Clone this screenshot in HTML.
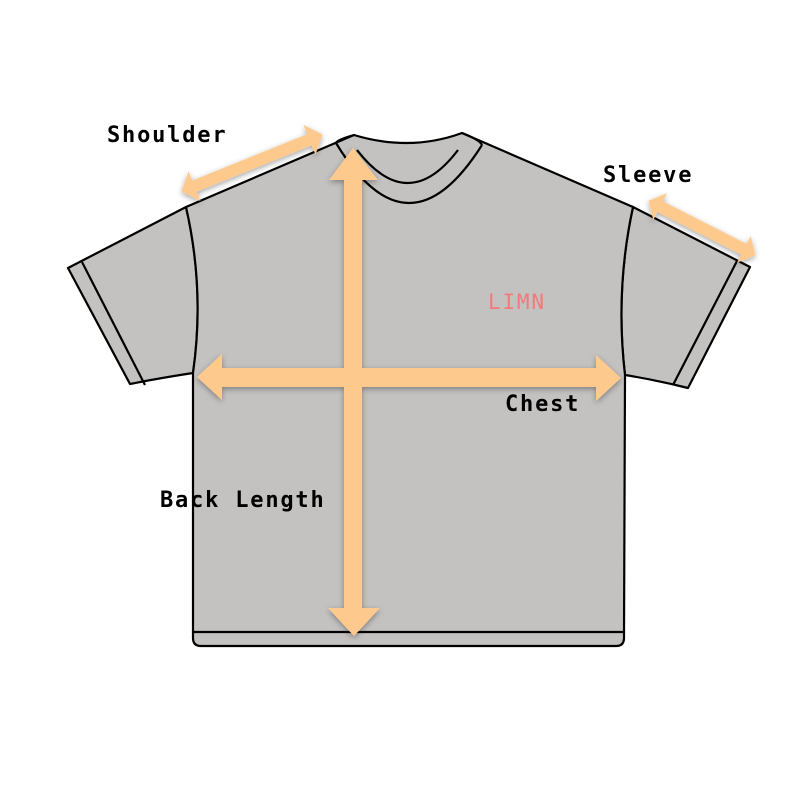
<!DOCTYPE html>
<html><head><meta charset="utf-8"><style>
html,body{margin:0;padding:0;background:#fff;}
svg{display:block;}
text{font-family:"DejaVu Sans Mono","Liberation Mono",monospace;letter-spacing:1.8px;}
</style></head><body>
<svg width="800" height="800" viewBox="0 0 800 800" xmlns="http://www.w3.org/2000/svg">
<defs>
<filter id="sh" x="-20%" y="-20%" width="140%" height="140%"><feDropShadow dx="0" dy="2" stdDeviation="3" flood-color="#000" flood-opacity="0.35"/></filter>
</defs>
<g stroke="#000" stroke-width="2.2" stroke-linejoin="round" fill="#c3c2c0">
<path d="M186,207 L68,268 L130,384 Q160,378 193,373 Q205,290 186,207 Z"/>
<path d="M633,207 L750,267 L688,388 Q656,380 625,375 Q615,290 633,207 Z"/>
<path d="M354,135 L186,207 Q205,290 193,373 L193,638 Q193,646 201,646 L616,646 Q624,646 624,638 L625,375 Q615,290 633,207 L462,133 Q410,152 354,135 Z"/>
<path d="M193,632 L624,632" fill="none"/>
<path d="M82,262 L145,385" fill="none"/>
<path d="M737,261 L673,385" fill="none"/>
<path d="M336,143 Q408,262 482,145" fill="none"/>
<path d="M357,150 Q408,216 458,150" fill="none"/>
<path d="M354,135 Q336,140 336,143" fill="none"/>
<path d="M462,133 Q480,140 482,145" fill="none"/>
</g>
<g fill="#fec98d" filter="url(#sh)">
<polygon points="353,148 378,180 362,180 362,608 380,608 354,636 328,608 344,608 344,180 329,180"/>
<polygon points="197,377 222,354 222,368 596,368 596,355 621,378 596,401 596,387 222,387 222,400"/>
<g transform="translate(252,163) rotate(-22)">
<polygon points="-76,0 -62,-16 -62,-6 62,-6 62,-16 76,0 62,16 62,6 -62,6 -62,16"/>
</g>
<g transform="translate(702,228) rotate(27)">
<polygon points="-60,0 -47,-15 -47,-6 47,-6 47,-15 60,0 47,15 47,6 -47,6 -47,15"/>
</g>
</g>
<g font-size="22" fill="#000" font-weight="bold" style="font-weight:600">
<text x="107" y="142">Shoulder</text>
<text x="603" y="182">Sleeve</text>
<text x="505" y="411">Chest</text>
<text x="160" y="507">Back Length</text>
</g>
<text x="488" y="309" font-size="21" fill="#f27a7a">LIMN</text>
</svg>
</body></html>
